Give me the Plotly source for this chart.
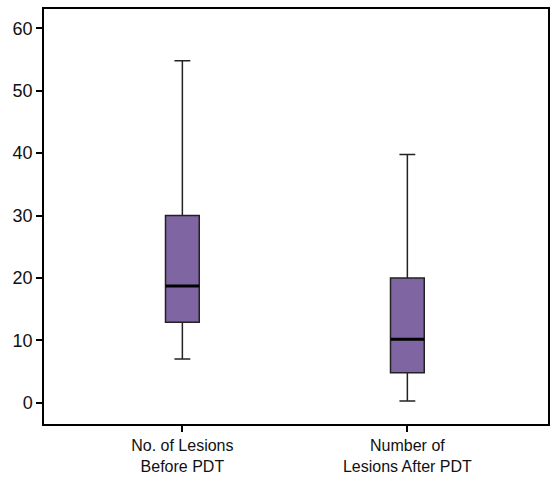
import plotly.graph_objects as go

categories = ["No. of Lesions<br>Before PDT", "Number of<br>Lesions After PDT"]
lower_whisker = [7, 0.3]
q1_values = [12.9, 4.8]
median_values = [18.7, 10.2]
q3_values = [30, 20]
upper_whisker = [54.8, 39.8]
y_ticks = [0, 10, 20, 30, 40, 50, 60]

FONT = "Liberation Sans Narrow, Arial Narrow, Liberation Sans, sans-serif"
BOX_W = 0.15

fig = go.Figure()
fig.add_trace(go.Box(
    x=categories,
    q1=q1_values, median=median_values, q3=q3_values,
    lowerfence=lower_whisker, upperfence=upper_whisker,
    fillcolor="#7f66a3",
    line=dict(color="#222222", width=1.5),
    width=BOX_W,
    whiskerwidth=0.47,
    boxpoints=False,
    showlegend=False,
    hoverinfo="skip",
))

# thicker black median lines
for i, m in enumerate(median_values):
    fig.add_shape(type="line", xref="x", yref="y",
                  x0=i - BOX_W / 2, x1=i + BOX_W / 2, y0=m, y1=m,
                  line=dict(color="black", width=3))

fig.update_layout(
    width=556, height=480,
    margin=dict(l=44, r=8, t=9, b=56, autoexpand=False),
    paper_bgcolor="white", plot_bgcolor="white",
    font=dict(family=FONT, size=17, color="#111111"),
    xaxis=dict(
        type="category", range=[-0.615, 1.625], automargin=False,
        showline=True, linecolor="black", linewidth=1.5, mirror=True,
        ticks="outside", ticklen=6, tickcolor="black", tickwidth=1.5,
        showgrid=False, zeroline=False,
        tickfont=dict(size=16),
    ),
    yaxis=dict(
        range=[-3.4, 63.1], automargin=False,
        tickvals=y_ticks,
        showline=True, linecolor="black", linewidth=1.5, mirror=True,
        ticks="outside", ticklen=6, tickcolor="black", tickwidth=1.5,
        showgrid=False, zeroline=False,
        tickfont=dict(size=18),
    ),
)

fig.write_html(
    "out.html",
    config={"displayModeBar": False},
    post_script="document.body.style.margin='0';document.body.style.overflow='hidden';",
)
